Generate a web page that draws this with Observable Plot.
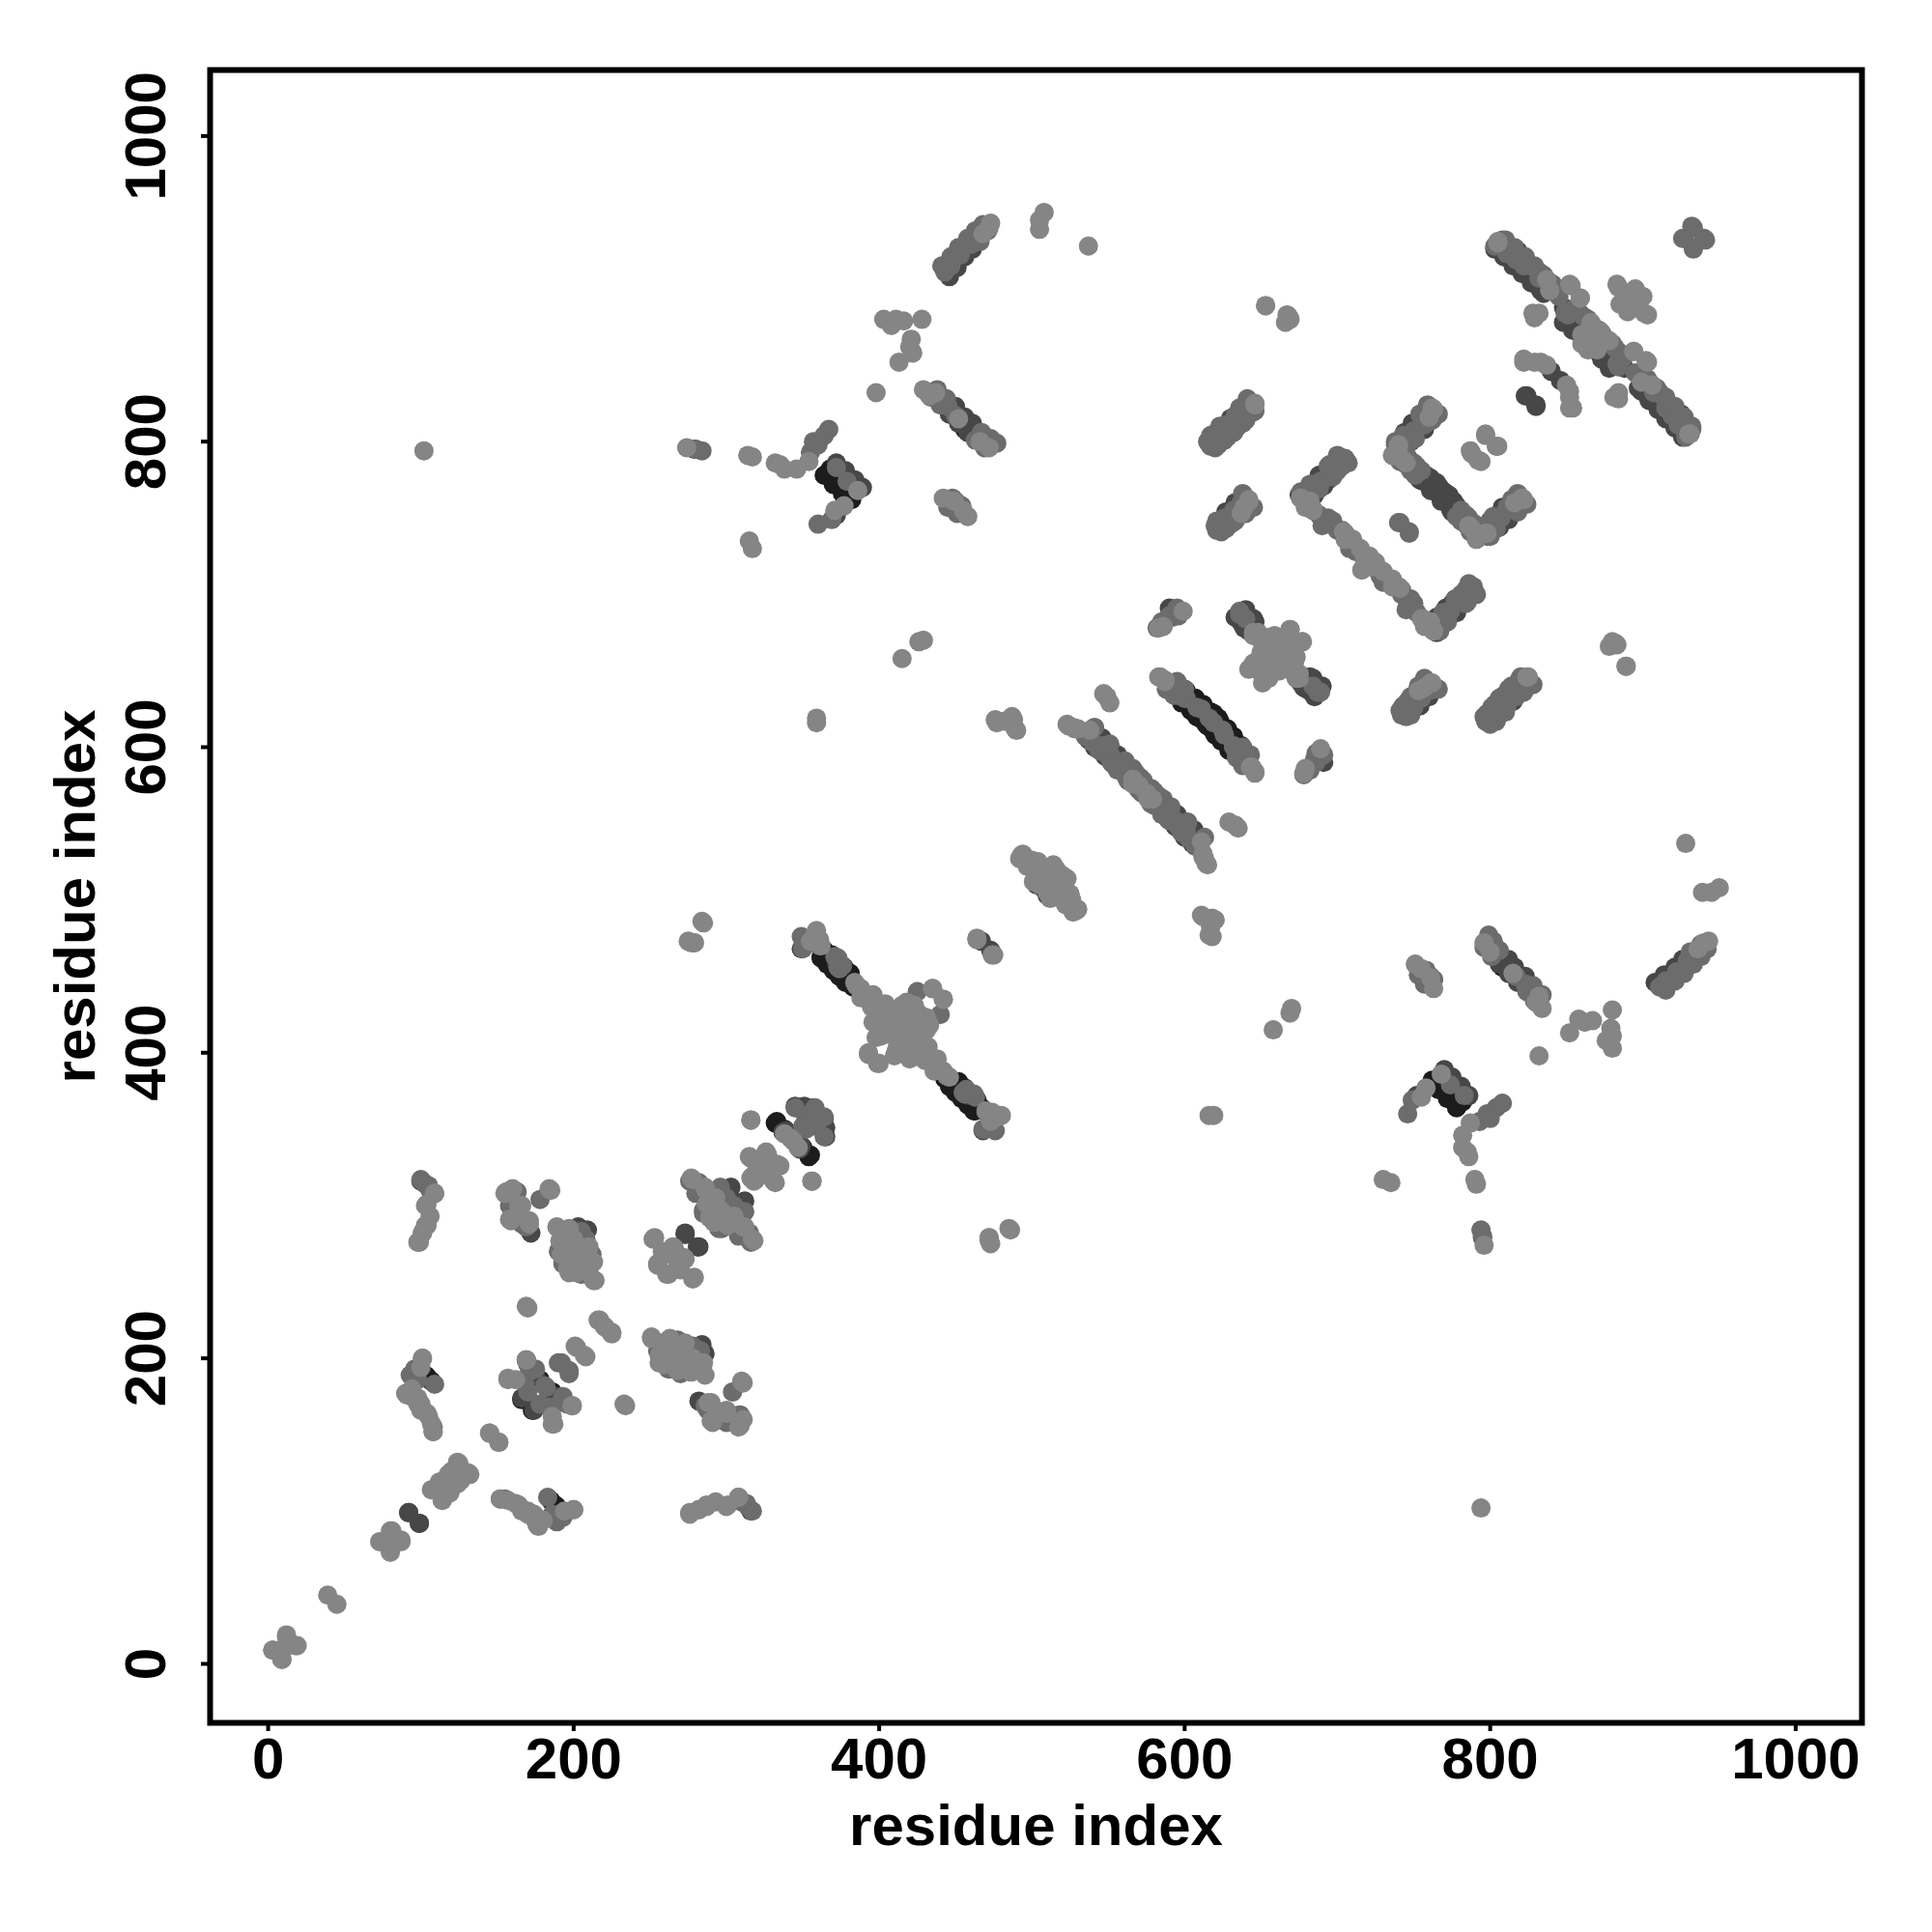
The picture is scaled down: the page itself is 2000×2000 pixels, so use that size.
<!DOCTYPE html>
<html>
<head>
<meta charset="utf-8">
<style>html,body{margin:0;padding:0;background:#fff}svg{display:block}</style>
<script src="https://cdn.jsdelivr.net/npm/d3@7"></script>
<script src="https://cdn.jsdelivr.net/npm/@observablehq/plot@0.6"></script>
</head>
<body>
<div id="chart"></div>
<script>
const tickValues = [0, 200, 400, 600, 800, 1000];
const axisTitle = "residue index";

// Contacts (i, j); the map is symmetric, so each is also drawn as (j, i).
const lightContacts = [
[3,9],[12,18],[19,12],[9,3],[11,11],[39,45],[74,80],[81,87],[87,80],[80,73],[80,80],
[107,114],[114,107],[125,131],[132,124],[112,119],[117,122],[120,126],[124,118],[145,151],[151,145],
[109,308],[104,301],[106,293],[104,287],[99,276],[101,282],[101,200],[90,177],[94,175],[100,166],[105,162],[98,170],
[152,108],[157,107],[164,104],[170,100],[174,98],[176,91],[180,94],[200,101],[194,100],
[157,186],[169,199],[199,169],[187,157],[186,162],[201,208],[207,202],[216,225],[225,217],[220,221],[169,234],[233,170],
[156,309],[160,311],[158,291],[171,288],[166,300],[185,310],[196,259],[202,256],[214,251],[211,264],[210,273],[198,270],[200,278],[204,266],[192,268],
[276,98],[282,101],[287,103],[300,103],[308,109],
[251,213],[256,197],[263,213],[260,205],[267,194],[272,208],[277,191],[269,203],[285,197],[286,189],
[290,171],[290,159],[300,164],[308,155],[311,184],[294,165],
[253,279],[255,261],[262,255],[258,270],[266,272],[273,265],[278,252],[268,260],
[277,318],[286,312],[287,301],[298,295],[311,286],[317,278],[289,292],[304,291],[293,305],
[316,356],[315,332],[327,333],[316,318],[331,316],[335,326],[320,326],[324,322],[338,347],[344,342],
[358,478],[355,473],[392,436],[385,444],[399,429],[405,424],[413,428],[424,428],[418,433],[431,423],[431,415],[398,410],[393,399],[400,393],[411,401],[407,416],[417,413],[424,404],[432,398],[439,389],[446,384],[470,362],[474,361],[480,359],[435,442],[442,435],
[388,436],[395,430],[402,424],[396,438],[404,432],[410,412],[420,420],[412,404],[420,396],[428,404],[436,396],[442,388],[405,415],[420,428],[428,418],[415,405],[418,412],
[464,474],[475,464],[493,529],[500,526],[504,524],[514,521],[520,516],[523,514],[510,515],[525,504],[530,494],[527,492],[512,501],[518,508],[507,518],
[497,522],[505,515],[515,512],[520,505],[510,505],[522,498],
[285,485],[279,472],[277,472],[486,284],[472,279],[473,275],
[523,615],[527,613],[530,612],[566,579],[570,575],[576,566],[614,524],[612,528],[611,538],
[549,633],[551,629],[633,549],[635,547],[586,679],[599,689],[583,678],
[583,646],[587,643],[646,584],[644,587],
[648,675],[656,672],[669,677],[677,669],[673,659],[650,649],[651,642],[664,657],[658,649],[675,645],[660,665],[666,668],
[655,660],[660,672],[668,665],[670,650],[655,645],[645,673],[652,668],[662,650],
[612,489],[620,487],[618,476],[617,482],[761,642],[757,639],[753,637],
[805,931],[653,889],[667,883],[669,880],[829,881],[832,884],
[853,902],[859,894],[860,864],[865,870],[872,872],[878,866],[870,860],[894,859],[903,852],[884,901],[895,899],[900,895],[903,883],[890,885],[897,890],
[882,829],[884,828],[899,839],[906,837],[930,805],[822,852],[833,852],[850,837],[852,829],[854,822],
[646,825],[642,762],
[679,757],[676,763],[684,755],[709,736],[704,741],[718,724],[716,716],[725,721],[730,715],[736,710],[736,705],[756,684],[763,676],[761,682],
[762,822],[736,791],[743,788],[740,798],[786,745],[791,737],[797,740],[821,763],[816,760],
[797,804],[805,797],[788,792],[794,787],[882,668],[889,653],[878,666],
[824,646],[398,832],[429,834],[437,832],[433,830],[452,815],[466,800],[472,796],
[442,763],[449,761],[458,751],[455,755],[505,939],[508,950],[505,945],[537,928],
[403,880],[411,880],[416,879],[428,880],[421,867],[422,858],[413,852],[420,862],[408,876],
[274,796],[314,791],[317,790],[332,786],[335,785],[338,782],[346,782],[354,787],[386,768],[371,755],[377,758],
[315,735],[317,730],[102,794],[415,658],[426,669],[429,670],[359,616],[359,619],
[477,616],[484,617],[488,618],[490,611],[468,936],[473,943],[472,940]
];
const midContacts = [
[106,310],[103,314],[93,189],[98,186],[96,193],[109,183],[108,155],[108,152],
[190,197],[197,192],[163,309],[162,305],[178,304],[166,288],[184,310],[199,169],[184,168],
[317,100],[313,105],[286,169],[300,158],[310,160],[304,160],[356,316],[317,319],[276,316],[280,315],
[350,468],[373,456],[361,470],[425,440],[410,420],[457,376],[463,371],[469,350],[476,349],
[530,612],[539,611],[546,601],[552,594],[559,589],[581,563],[589,556],[632,600],[639,592],[590,640],[597,634],[636,689],[640,684],
[601,632],[611,625],[619,616],[626,608],[372,783],[379,774],[373,462],[455,374],
[687,636],[691,595],[685,592],[682,585],[678,582],[686,596],[595,690],[590,686],[742,621],[747,629],[749,633],
[797,617],[802,622],[806,628],[813,633],[817,640],[821,643],
[810,925],[817,919],[822,915],[832,907],[839,899],[845,895],
[849,884],[883,851],[923,811],[921,818],[909,833],[928,803],[933,940],[941,932],[927,933],[933,926],
[630,809],[639,818],[623,805],[616,799],[634,754],[628,748],[621,743],
[703,788],[689,773],[682,767],[697,748],[748,696],[774,689],[781,697],[789,705],[768,681],
[756,813],[750,807],[743,801],[750,782],[779,751],[804,748],[811,755],
[741,747],[747,740],[460,929],[453,922],[443,911],[447,915],[450,817],[445,823],[477,799],[450,761],
[280,795],[284,794],[360,746],[369,749],[364,804],[367,808],[360,798],
[175,193],[182,181],[192,172],[196,170],[178,170],
[192,282],[205,283],[208,276],[194,270],[200,262],[205,272],[210,258],[193,263],[212,268],
[255,205],[262,200],[275,200],[280,198],[283,193],[270,190],[262,193],[278,208],
[280,308],[293,298],[300,288],[305,300],[312,296],[295,285],[285,297],[315,282],
[345,364],[352,358],[360,355],[364,358],[350,352],
[535,607],[540,603],[544,598],[548,596],[553,589],[557,586],[562,580],[568,576],[572,570],[578,563],[585,556],[590,552],
[541,613],[551,602],[561,591],[566,586],[571,580],[578,573],[583,568],[590,561],
[588,638],[593,634],[634,595],[640,590],[638,600],[643,595],
[620,796],[626,801],[632,806],[638,812],[644,819],[617,804],[623,810],[636,822],[641,828],
[624,741],[630,746],[636,752],[642,757],[621,748],[638,766],
[745,620],[750,626],[755,632],[760,637],[743,627],[748,633],[753,640],[757,645],
[800,615],[806,621],[811,627],[817,633],[822,640],[798,622],[803,628],[809,634],[814,640],[820,646],
[679,760],[697,777],[703,784],[677,767],[683,772],[695,785],[700,791],
[741,793],[757,811],[762,817],[738,798],[743,804],[754,818],[759,824],
[800,738],[817,755],[822,760],[797,745],[802,751],[814,762],[818,766],
[767,676],[772,682],[784,694],[789,700],[764,682],[769,688],[781,700],[786,707],
[745,785],[751,778],[781,748],[787,741],[750,786],[755,781],[784,752],[790,746],
[690,745],[694,750],[703,742],[712,728],[722,718],[730,708],[742,700],[746,692],[752,688],[740,705],
[434,829],[440,824],[463,801],[469,796],[438,834],[444,828],[467,806],[473,802],
[445,757],[451,753],[448,763],[454,758],
[441,915],[447,921],[452,927],[458,933],[463,938],[468,942],[466,931],[471,938],
[355,793],[357,800],
[808,932],[814,926],[820,921],[826,915],[832,911],[838,905],
[903,841],[909,835],[915,829],[921,823],[927,816],[932,810],
[855,887],[861,882],[867,876],[873,871],[880,864],[885,858]
];
const darkContacts = [
[92,99],[99,92],[100,316],[171,190],[174,166],[189,175],[282,172],[286,203],[284,209],
[273,281],[282,273],[312,303],[302,310],[339,349],[348,337],[357,364],[365,351],[365,345],
[459,372],[469,350],[467,473],[503,510],[508,507],
[597,548],[604,543],[546,600],[555,590],[540,607],[597,634],[639,678],[691,590],[596,688],
[840,846],[810,927],[824,830],[830,823],[856,879],[888,848],[921,812],
[696,782],[770,762],[761,771],[750,805],[755,810],[800,748],[630,812],[805,750],[818,925],[765,675],[770,685],
[445,823],[463,805],[452,758],[448,917],[465,803],[279,795],[372,752],[349,468],
[594,548],[600,541],[605,537],[595,556],[600,551],[606,546],[612,541],
[646,682],[684,645],[640,690],[633,685],[638,680],[642,676],[678,640],[683,636],
[630,815],[627,754],[633,760],[685,765],[691,771],[689,778],[746,799],[752,805],[749,812],
[806,744],[811,750],[808,757],[778,688],[775,694],
[756,774],[762,768],[768,761],[775,754],[761,776],[767,770],[773,765],[778,758],
[446,818],[452,812],[458,806],[450,823],[456,816],[461,812],
[446,908],[451,914],[456,921],[461,926],
[372,786],[378,781],[384,775],[389,770],
[803,926],[809,921],[815,915],[821,910],[827,904],[833,899],
[897,835],[903,830],[927,804],
[848,878],[854,873],[860,868],[866,863],[872,857],[879,850]
];
const blackContacts = [
[103,189],[178,186],[187,176],[166,173],[172,190],[185,107],[188,104],[332,354],[355,333],[338,350],[350,364],
[366,465],[369,460],[377,452],[384,445],[451,378],[459,370],[467,364],
[604,630],[614,622],[622,613],[628,606],[609,627],
[642,680],[681,640],[912,824],[916,820],[456,808],[453,922],[368,782],[375,775],[380,770],
[362,463],[366,460],[370,456],[374,452],[379,450],[383,443],[372,460],[376,456],[380,452],
[446,378],[450,374],[454,370],[458,366],[462,362],[452,381],[456,377],[460,373],[464,369],
[598,629],[604,624],[608,620],[614,615],[619,610],[624,605],[629,600],
[595,641],[601,637],[607,632],[612,628],[617,623],[622,619],[627,612],[632,606],
[364,778],[370,772],[376,766],[382,762],
[909,824],[915,818],[921,811]
];
const levels = [
  [blackContacts, "#1c1c1c"],
  [darkContacts, "#474747"],
  [midContacts, "#6c6c6c"],
  [lightContacts, "#858585"]
];

const table = levels.flatMap(([pairs, shade]) =>
  pairs.flatMap(([i, j]) => [{x: i, y: j, shade}, {x: j, y: i, shade}])
);

const font = "'Liberation Sans', Arial, sans-serif";
const chart = Plot.plot({
  width: 2000,
  height: 2000,
  marginLeft: 217,
  marginRight: 73,
  marginTop: 72,
  marginBottom: 217,
  style: {fontFamily: font, fontWeight: "bold", background: "#fff", color: "#000"},
  x: {domain: [-38, 1043.4]},
  y: {domain: [-38.6, 1043.2]},
  marks: [
    Plot.dot(table, {x: "x", y: "y", r: 10, fill: d => d.shade, stroke: "none"}),
    Plot.frame({stroke: "#000", strokeWidth: 6}),
    Plot.axisX({ticks: tickValues, tickSize: 9, tickPadding: 6, tickFormat: "d", label: null, fontSize: 60, strokeWidth: 4}),
    Plot.axisY({ticks: tickValues, tickSize: 9, tickPadding: 38, tickFormat: "d", label: null, fontSize: 60, strokeWidth: 4, tickRotate: -90, textAnchor: "middle"}),
    Plot.text([axisTitle], {frameAnchor: "bottom", dy: 126, fontSize: 60, fill: "#000"}),
    Plot.text([axisTitle], {frameAnchor: "left", dx: -139, rotate: -90, textAnchor: "middle", fontSize: 60, fill: "#000"})
  ]
});
document.getElementById("chart").appendChild(chart);
</script>
</body>
</html>
